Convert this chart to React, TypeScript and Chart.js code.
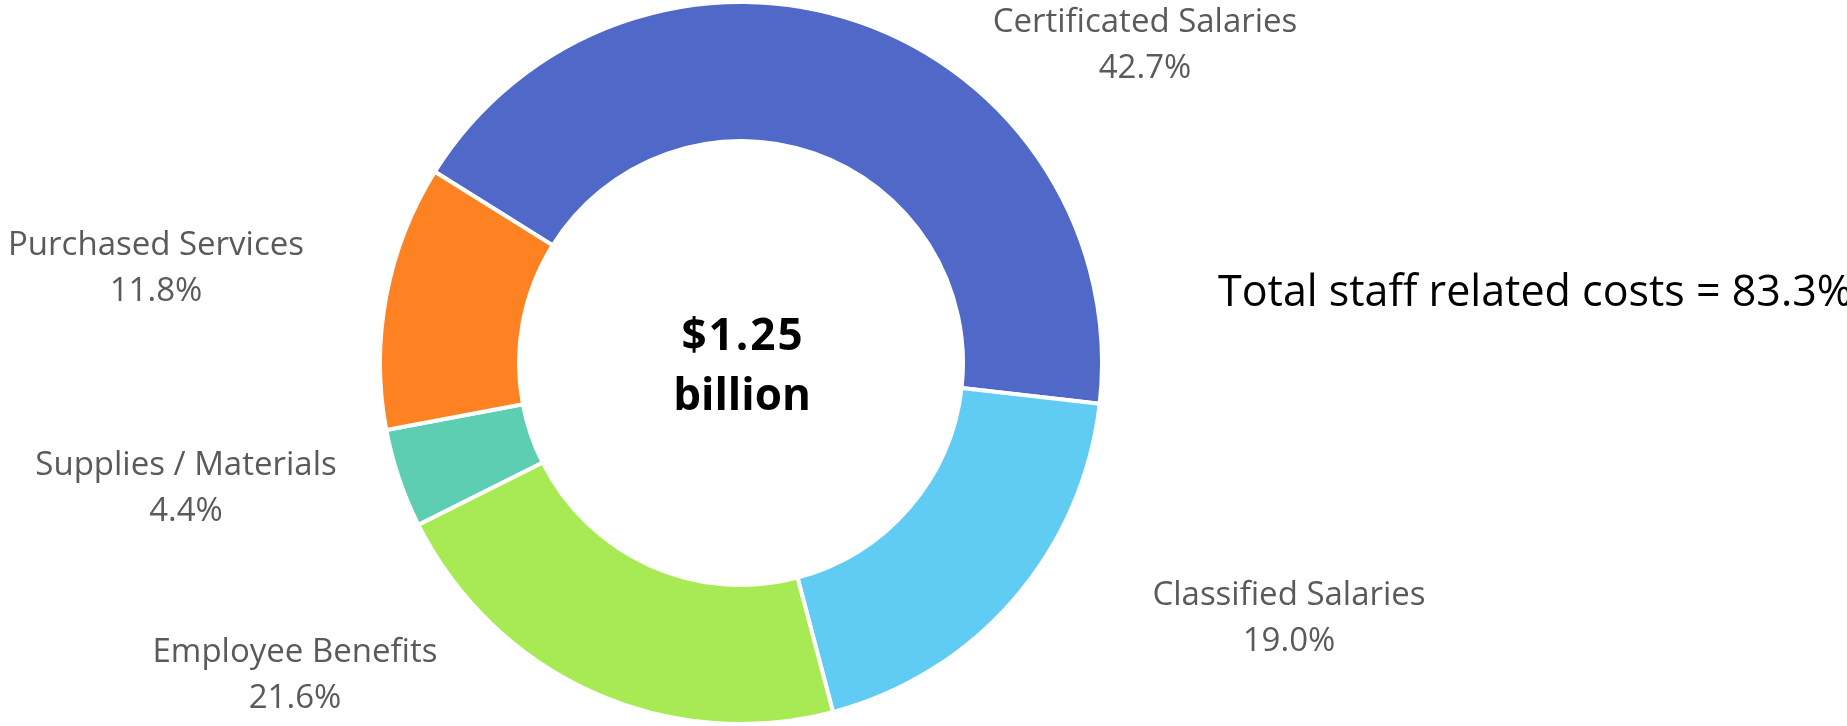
import React, { useEffect, useRef } from "react";
import { Chart, registerables } from "chart.js";

Chart.register(...registerables);

const categories = [
  "Certificated Salaries",
  "Classified Salaries",
  "Employee Benefits",
  "Supplies / Materials",
  "Purchased Services",
];
const shares = [42.7, 19.0, 21.6, 4.4, 11.8];
const sliceColors = ["#5068C8", "#60CCF4", "#A8EA54", "#5DCEB1", "#FE8122"];
const centerLines = ["$1.25", "billion"];
const noteText = "Total staff related costs = 83.3%";

// label anchor offsets (px, from doughnut centre, baseline of the first line)
const labelOffsets: [number, number][] = [
  [404, -331],
  [548, 242],
  [-446, 299],
  [-555, 112],
  [-585, -108],
];

const labelPlugin = {
  id: "doughnutLabels",
  afterDraw(chart: any) {
    const meta = chart.getDatasetMeta(0);
    const arc = meta.data[0];
    if (!arc) return;
    const cx = arc.x;
    const cy = arc.y;
    const ctx = chart.ctx;
    ctx.save();
    ctx.textAlign = "center";
    ctx.textBaseline = "alphabetic";

    // centre text
    ctx.fillStyle = "#000000";
    ctx.font = "bold 44px 'Open Sans'";
    (ctx as any).letterSpacing = "2px";
    ctx.fillText(centerLines[0], cx + 2, cy - 13);
    (ctx as any).letterSpacing = "0px";
    ctx.fillText(centerLines[1], cx + 1, cy + 47);

    // slice labels
    ctx.fillStyle = "#5a5a5a";
    ctx.font = "33px 'Open Sans'";
    categories.forEach((name, i) => {
      const [dx, dy] = labelOffsets[i];
      ctx.fillText(name, cx + dx, cy + dy);
      ctx.fillText(shares[i].toFixed(1) + "%", cx + dx, cy + dy + 46);
    });

    // note
    ctx.textAlign = "left";
    ctx.fillStyle = "#000000";
    ctx.font = "43px 'Open Sans'";
    ctx.fillText(noteText, cx + 477, cy - 57);
    ctx.restore();
  },
};

export default function App() {
  const canvasRef = useRef<HTMLCanvasElement | null>(null);

  useEffect(() => {
    const canvas = canvasRef.current;
    if (!canvas) return;
    const chart = new Chart(canvas, {
      type: "doughnut",
      data: {
        labels: categories,
        datasets: [
          {
            data: shares,
            backgroundColor: sliceColors,
            borderColor: "#ffffff",
            borderWidth: 4,
            hoverOffset: 0,
          },
        ],
      },
      options: {
        responsive: false,
        animation: false,
        rotation: -58,
        cutout: "61.5%",
        layout: { padding: { left: 376, right: 741, top: -2, bottom: -2 } },
        plugins: {
          legend: { display: false },
          tooltip: { enabled: false },
        },
      },
      plugins: [labelPlugin],
    });
    return () => chart.destroy();
  }, []);

  return (
    <div style={{ position: "fixed", left: 0, top: 0, width: 1847, height: 726, background: "#ffffff" }}>
      <canvas ref={canvasRef} width={1847} height={726} style={{ display: "block" }} />
    </div>
  );
}
